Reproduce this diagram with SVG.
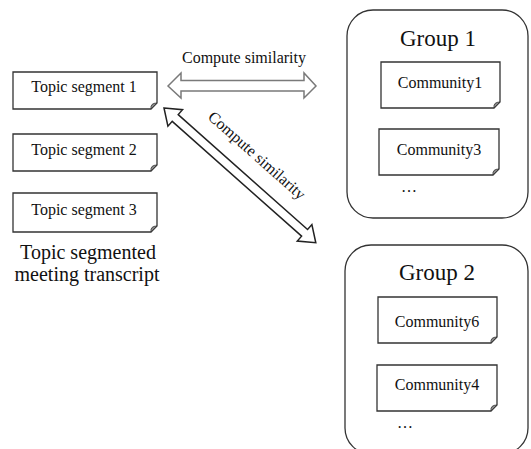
<svg xmlns="http://www.w3.org/2000/svg" width="531" height="449" viewBox="0 0 531 449">
<style>
text{font-family:"Liberation Serif","Times New Roman",serif;fill:#111;}
.note{fill:#fff;stroke:#333;stroke-width:1.3;}
.fold{fill:#888;stroke:#333;stroke-width:0.8;}
.nt{font-size:16px;text-anchor:middle;}
.grp{fill:#fff;stroke:#333;stroke-width:1.3;}
.gt{font-size:23px;text-anchor:middle;}
.dots{font-size:16px;letter-spacing:1px;}
.lbl{font-size:16px;text-anchor:middle;}
.big{font-size:20px;text-anchor:middle;}
</style>
<rect width="531" height="449" fill="#fff"/>

<g id="group1">
<rect class="grp" x="347" y="10" width="181" height="208" rx="26"/>
<text class="gt" x="438" y="46">Group 1</text>
<text class="dots" x="401" y="192">…</text>
</g>
<g id="group2">
<rect class="grp" x="345" y="245" width="183" height="209" rx="26"/>
<text class="gt" x="437" y="280">Group 2</text>
<text class="dots" x="397" y="428">…</text>
</g>

<g id="seg1">
<path class="note" d="M13,72 H157 V103 L151,109 H13 Z"/>
<path class="fold" d="M157,103 L151,109 Q150,103 157,103 Z"/>
<text class="nt" x="84" y="92">Topic segment 1</text>
</g>
<g id="seg2">
<path class="note" d="M13,134 H157 V165 L151,171 H13 Z"/>
<path class="fold" d="M157,165 L151,171 Q150,165 157,165 Z"/>
<text class="nt" x="84" y="155">Topic segment 2</text>
</g>
<g id="seg3">
<path class="note" d="M13,193 H157 V226 L151,232 H13 Z"/>
<path class="fold" d="M157,226 L151,232 Q150,226 157,226 Z"/>
<text class="nt" x="84" y="215">Topic segment 3</text>
</g>
<g id="transcript-label">
<text class="big" x="88" y="259">Topic segmented</text>
<text class="big" x="87" y="281">meeting transcript</text>
</g>

<g id="comm1">
<path class="note" d="M381,62 H500 V102 L494,108 H381 Z"/>
<path class="fold" d="M500,102 L494,108 Q493,102 500,102 Z"/>
<text class="nt" x="440" y="88">Community1</text>
</g>
<g id="comm3">
<path class="note" d="M379,129 H499 V169 L493,175 H379 Z"/>
<path class="fold" d="M499,169 L493,175 Q492,169 499,169 Z"/>
<text class="nt" x="439" y="155">Community3</text>
</g>
<g id="comm6">
<path class="note" d="M378,297 H497 V337 L491,343 H378 Z"/>
<path class="fold" d="M497,337 L491,343 Q490,337 497,337 Z"/>
<text class="nt" x="437" y="327">Community6</text>
</g>
<g id="comm4">
<path class="note" d="M377,365 H497 V405 L491,411 H377 Z"/>
<path class="fold" d="M497,405 L491,411 Q490,405 497,405 Z"/>
<text class="nt" x="437" y="390">Community4</text>
</g>

<g id="connectors">
<path d="M168,86 L181,73 V80.5 H304 V73 L316,86 L304,98 V91 H181 V98 Z" fill="#fff" stroke="#7a7a7a" stroke-width="1.5" stroke-linejoin="miter"/>
<text class="lbl" x="244" y="63">Compute similarity</text>
<g transform="translate(164,108) rotate(41.6)">
<path d="M0,0 L15,-11 V-4.5 H188 V-11 L203,0 L188,11 V4.5 H15 V11 Z" fill="#fff" stroke="#222" stroke-width="1.5"/>
<text class="lbl" x="101" y="-21">Compute similarity</text>
</g>
</g>
</svg>
